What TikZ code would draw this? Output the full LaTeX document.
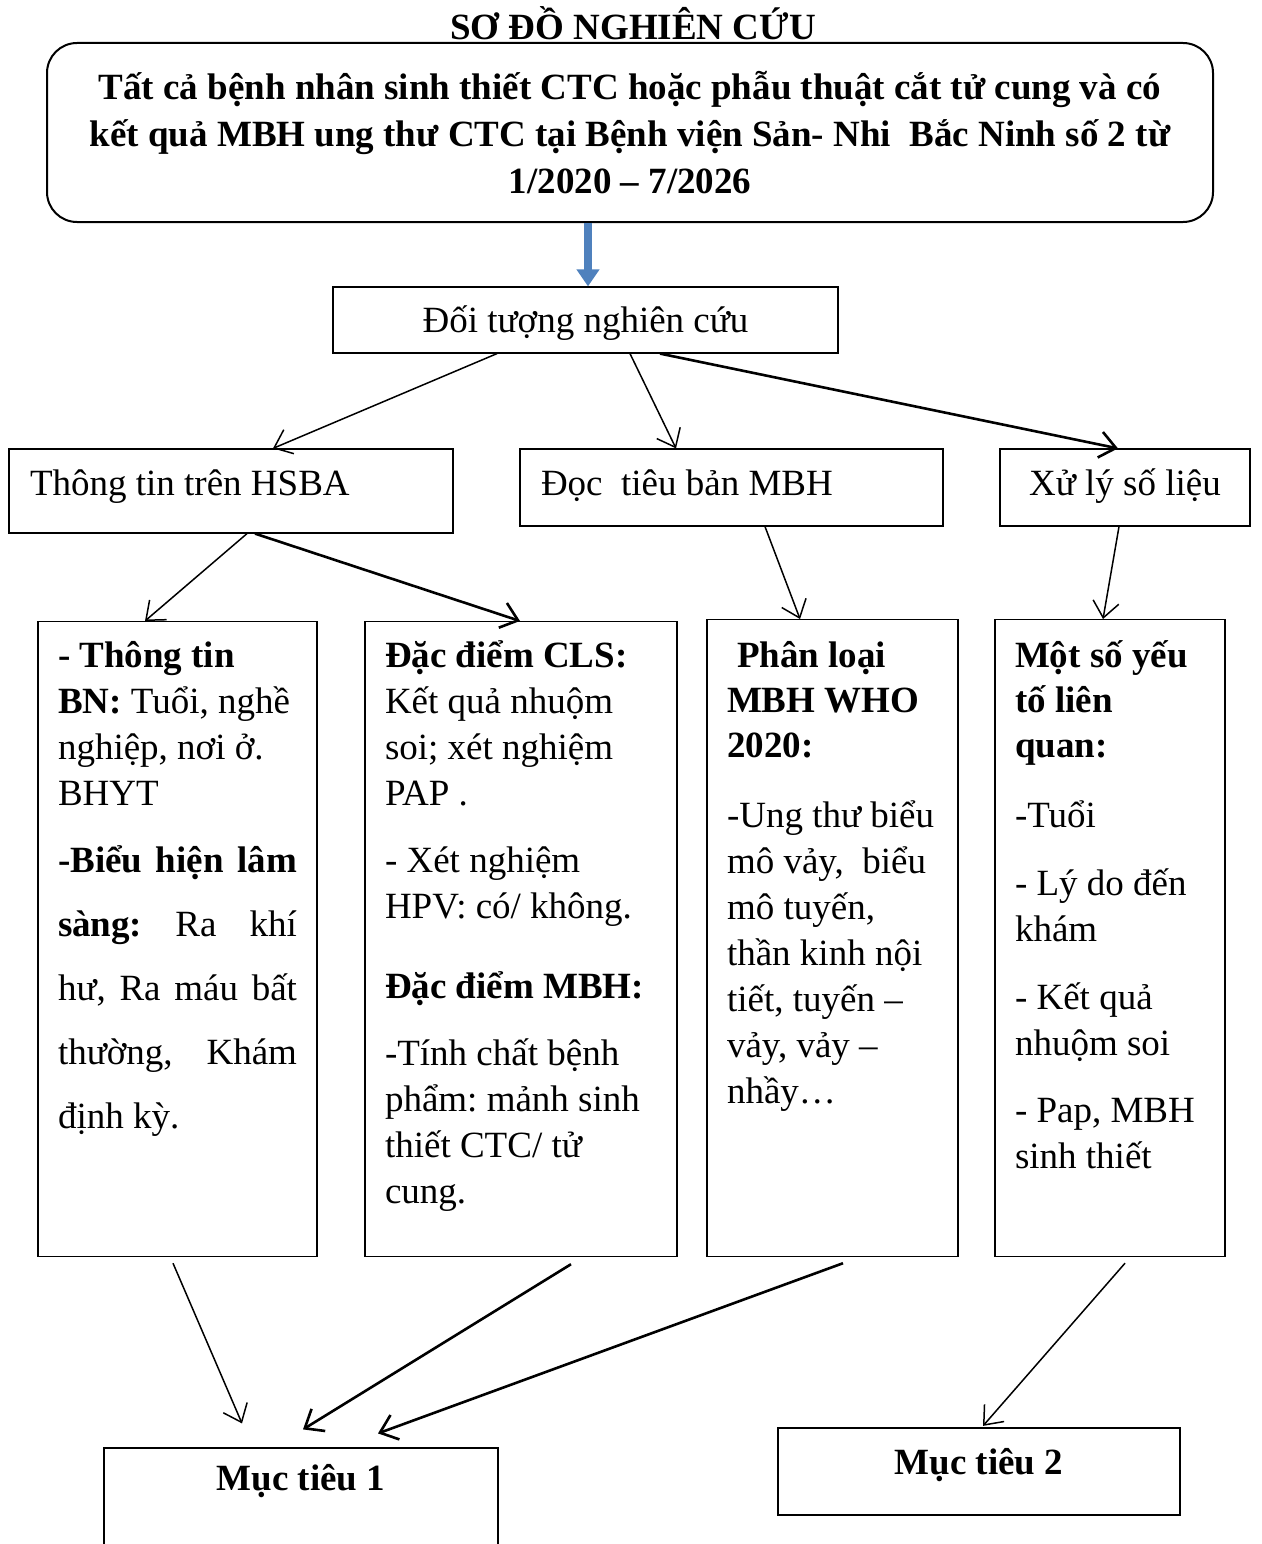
\documentclass[tikz,border=0pt]{standalone}
\usepackage{fontspec}
\setmainfont{Liberation Serif}
\usetikzlibrary{arrows.meta}
\definecolor{blueshaft}{HTML}{4F81BD}
\frenchspacing

\begin{document}
\begin{tikzpicture}[
    x=1pt, y=-1pt,
    every node/.style={inner sep=0pt, font=\fontsize{37}{46}\selectfont},
    box/.style={draw, line width=1.2pt},
    colbox/.style={box, align=flush left, anchor=north, inner xsep=20pt, text height=46pt},
    arrow/.style={-{Straight Barb[length=16pt, width=26pt]}, line width=1.5pt},
    thickarrow/.style={arrow, line width=2.6pt},
    bluearrow/.style={-{Triangle[length=17pt, width=22pt]}, line width=8pt, draw=blueshaft}
]
\useasboundingbox (0,0) rectangle (1261,1544);

\node[font=\fontsize{37}{46}\selectfont\bfseries, anchor=base] (title) at (633,40) {SƠ ĐỒ NGHIÊN CỨU};
\node[box, line width=2pt, rounded corners=30pt, minimum width=1166pt, minimum height=179pt,
      text width=1130pt, align=flush center, font=\fontsize{37}{47}\selectfont\bfseries] (all) at (630,132.5)
    {Tất cả bệnh nhân sinh thiết CTC hoặc phẫu thuật cắt tử cung và có\\
     kết quả MBH ung thư CTC tại Bệnh viện Sản- Nhi\ \ Bắc Ninh số 2 từ\\
     1/2020 – 7/2026};

\node[box, minimum width=505pt, text height=45pt, text depth=21pt] (dt) at (585.5,320) {Đối tượng nghiên cứu};

% second row
\node[box, text width=402pt, inner xsep=21pt, align=flush left, text height=46pt, text depth=38pt] (hsba) at (231,491) {Thông tin trên HSBA};
\node[box, text width=381pt, inner xsep=21pt, align=flush left, text height=46pt, text depth=31pt] (doc) at (731.5,487.5) {Đọc\ \ tiêu bản MBH};
\node[box, minimum width=250pt, text height=46pt, text depth=31pt] (xl) at (1125,487.5) {Xử lý số liệu};

% columns
\node[colbox, text width=239pt, text depth=589pt] (tt) at (177.5,621)
    {\textbf{- Thông tin}\\
     \textbf{BN:} Tuổi, nghề\\
     nghiệp, nơi ở.\\
     BHYT\\[21pt]
     \makebox[239pt][l]{\textbf{-Biểu}\hfill\textbf{hiện}\hfill\textbf{lâm}}\\[18pt]
     \makebox[239pt][l]{\textbf{sàng:}\hfill Ra\hfill khí}\\[18pt]
     \makebox[239pt][l]{hư,\hfill Ra\hfill máu\hfill bất}\\[18pt]
     \makebox[239pt][l]{thường,\hfill Khám}\\[18pt]
     định kỳ.};
\node[colbox, text width=272pt, text depth=589pt] (cls) at (521,621)
    {\textbf{Đặc điểm CLS:}\\
     Kết quả nhuộm\\
     soi; xét nghiệm\\
     PAP .\\[21pt]
     - Xét nghiệm\\
     HPV: có/ không.\\[34pt]
     \textbf{Đặc điểm MBH:}\\[21pt]
     -Tính chất bệnh\\
     phẩm: mảnh sinh\\
     thiết CTC/ tử\\
     cung.};
\node[colbox, text width=211pt, text height=48pt, text depth=589pt] (pl) at (832.5,619)
    {\textbf{\hspace*{10pt}Phân loại}\\[-1pt]
     \textbf{MBH WHO}\\[-1pt]
     \textbf{2020:}\\[24pt]
     -Ung thư biểu\\
     mô vảy,\ \ biểu\\
     mô tuyến,\\
     thần kinh nội\\
     tiết, tuyến –\\
     vảy, vảy –\\
     nhầy…};
\node[colbox, text width=190pt, text height=48pt, text depth=589pt] (yt) at (1110,619)
    {\textbf{Một số yếu}\\[-1pt]
     \textbf{tố liên}\\[-1pt]
     \textbf{quan:}\\[24pt]
     -Tuổi\\[22pt]
     - Lý do đến\\
     khám\\[22pt]
     - Kết quả\\
     nhuộm soi\\[21pt]
     - Pap, MBH\\
     sinh thiết};

% goals
\node[box, minimum width=394pt, font=\fontsize{37}{46}\selectfont\bfseries, text height=42pt, text depth=70pt] (m1) at (301,1504) {Mục tiêu 1};
\node[box, line width=2.2pt, minimum width=402pt, font=\fontsize{37}{46}\selectfont\bfseries, text height=46pt, text depth=41pt] (m2) at (979,1471.5) {Mục tiêu 2};

% connectors
\draw[bluearrow] ([xshift=2.5pt]dt.north |- all.south) -- ([xshift=2.5pt]dt.north);
\draw[arrow] ([xshift=-88.5pt]dt.south) -- ([xshift=42pt]hsba.north);
\draw[arrow] ([xshift=44.5pt]dt.south) -- ([xshift=-55.5pt]doc.north);
\draw[thickarrow] ([xshift=74.5pt]dt.south) -- ([xshift=-7pt]xl.north);
\draw[arrow] ([xshift=16pt]hsba.south) -- ([xshift=-32.5pt]tt.north);
\draw[thickarrow] ([xshift=24pt]hsba.south) -- ([xshift=-1pt]cls.north);
\draw[arrow] ([xshift=33.5pt]doc.south) -- ([xshift=-32.5pt]pl.north);
\draw[arrow] ([xshift=-6pt]xl.south) -- ([xshift=-7pt]yt.north);
\draw[arrow] ([xshift=-4.5pt,yshift=-6pt]tt.south) -- ([xshift=-59pt,yshift=24pt]m1.north);
\draw[thickarrow] ([xshift=50pt,yshift=-7pt]cls.south) -- ([xshift=2pt,yshift=18pt]m1.north);
\draw[thickarrow] ([xshift=10.5pt,yshift=-6pt]pl.south) -- ([xshift=77pt,yshift=14pt]m1.north);
\draw[arrow] ([xshift=15pt,yshift=-6pt]yt.south) -- ([xshift=4pt,yshift=1pt]m2.north);
\end{tikzpicture}
\end{document}
